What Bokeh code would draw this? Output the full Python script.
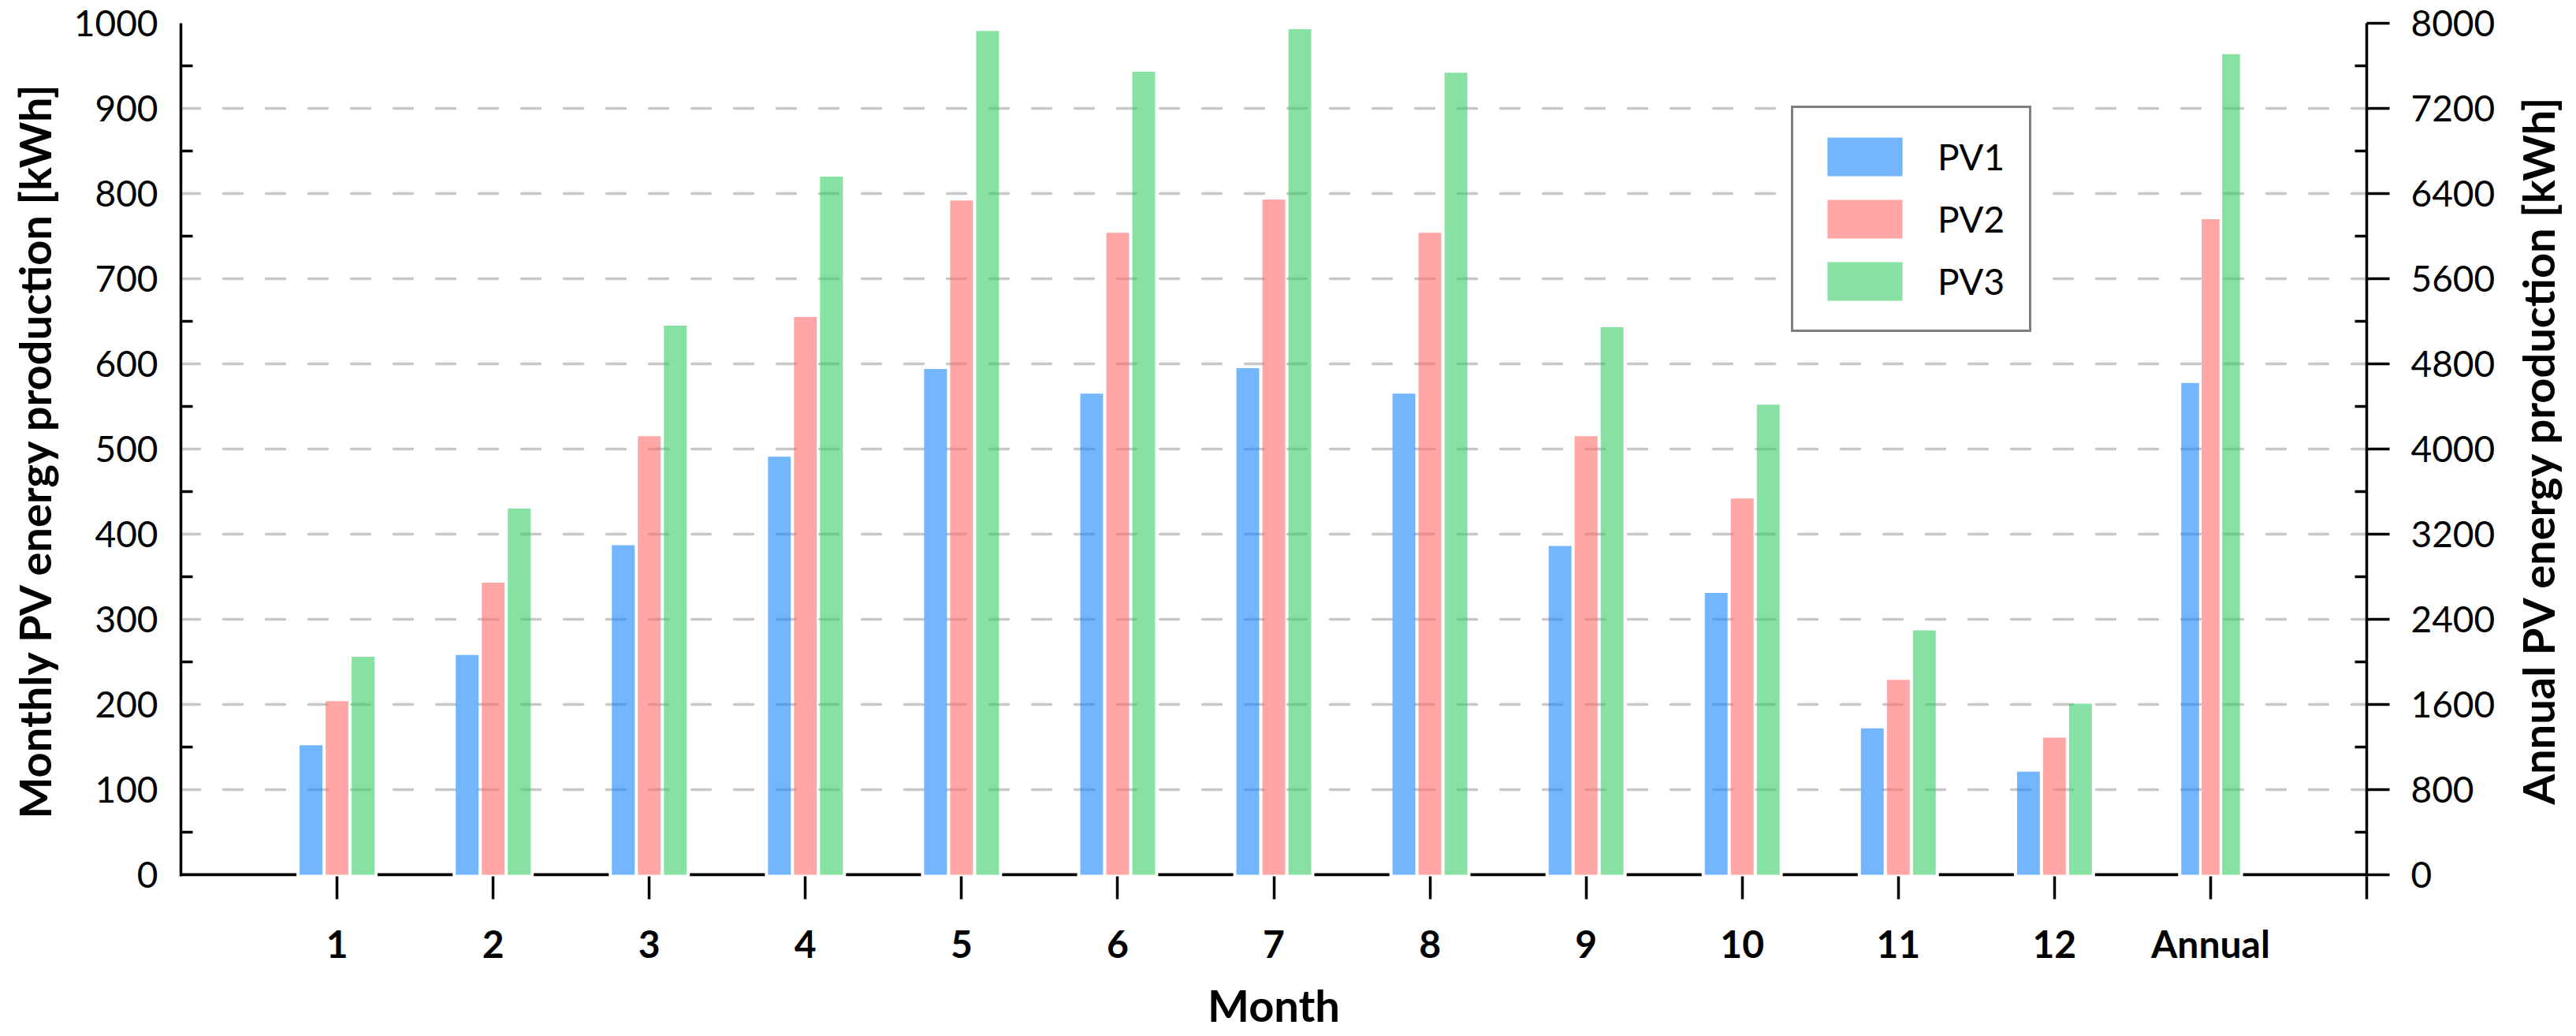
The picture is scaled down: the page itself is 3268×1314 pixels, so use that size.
import math
from bokeh.plotting import figure
from bokeh.layouts import row
from bokeh.models import (LinearAxis, Range1d, FixedTicker, Legend, LegendItem,
                          ColumnDataSource, Title)
from bokeh.transform import dodge
from bokeh.embed import file_html
from bokeh.resources import INLINE

# ---------------- data ----------------
months = list(range(1, 13))
pv1 = [152, 258, 387, 491, 594, 565, 595, 565, 386, 331, 172, 121]
pv2 = [204, 343, 515, 655, 792, 754, 793, 754, 515, 442, 229, 161]
pv3 = [256, 430, 645, 820, 991, 943, 993, 942, 643, 552, 287, 201]
annual_pos = [13]
annual_pv1 = [4620]
annual_pv2 = [6160]
annual_pv3 = [7710]
series_names = ["PV1", "PV2", "PV3"]
tick_labels = ["1", "2", "3", "4", "5", "6", "7", "8", "9", "10", "11", "12", "Annual"]
left_ticks = [0, 100, 200, 300, 400, 500, 600, 700, 800, 900, 1000]
right_ticks = [0, 800, 1600, 2400, 3200, 4000, 4800, 5600, 6400, 7200, 8000]
x_title = "Month"
left_title = "Monthly PV energy production [kWh]"
right_title = "Annual PV energy production [kWh]"

colors = ["#1685FC", "#FF6B6B", "#37CD64"]
ALPHA = 0.6
FONT = "Lato"
TITLE_SIZE = "56px"

# ---------------- geometry ----------------
m_off, m_w = 0.1667, 0.146
a_off, a_w = 0.131, 0.114
gap = 0.02
ext = 1.85  # frame extends slightly below zero so the base line is fully visible

p = figure(frame_width=2773, frame_height=1082,
           x_range=Range1d(0, 14), y_range=Range1d(-ext, 1000),
           output_backend="svg", toolbar_location=None,
           min_border_left=229, min_border_right=164,
           min_border_top=29, min_border_bottom=187,
           background_fill_color="white", border_fill_color="white")
p.outline_line_color = None
p.extra_y_ranges = {"annual": Range1d(-ext * 8, 8000)}

# grid
p.xgrid.visible = False
p.ygrid.ticker = FixedTicker(ticks=left_ticks[1:])
p.ygrid.grid_line_color = "#c8c8c8"
p.ygrid.grid_line_width = 3.5
p.ygrid.grid_line_dash = "24 30"
p.ygrid.grid_line_cap = "round"

# bars
src = ColumnDataSource(dict(x=months, pv1=pv1, pv2=pv2, pv3=pv3))
asrc = ColumnDataSource(dict(x=annual_pos, pv1=annual_pv1, pv2=annual_pv2, pv3=annual_pv3))
cols = ["pv1", "pv2", "pv3"]
offs = [-1, 0, 1]
month_renderers = []
for c, o, col in zip(cols, offs, colors):
    r = p.vbar(x=dodge("x", o * m_off), top=c, bottom=0, width=m_w, source=src,
               fill_color=col, fill_alpha=ALPHA, line_color=None)
    month_renderers.append(r)
    p.vbar(x=dodge("x", o * a_off), top=c, bottom=0, width=a_w, source=asrc,
           fill_color=col, fill_alpha=ALPHA, line_color=None, y_range_name="annual")

# broken base line between bar groups
centers = [0] + months + annual_pos + [14]
half = [0] + [m_off + m_w / 2 + gap] * len(months) + [a_off + a_w / 2 + gap] * len(annual_pos) + [0]
x0 = [centers[i] + half[i] for i in range(len(centers) - 1)]
x1 = [centers[i + 1] - half[i + 1] for i in range(len(centers) - 1)]
p.segment(x0=x0, y0=[0] * len(x0), x1=x1, y1=[0] * len(x1),
          line_color="black", line_width=4)

# x axis
xa = p.xaxis[0]
xa.ticker = FixedTicker(ticks=list(range(1, 15)))
overrides = {i + 1: t for i, t in enumerate(tick_labels)}
overrides[14] = ""
xa.major_label_overrides = overrides
xa.axis_line_color = None
xa.major_tick_line_color = "black"
xa.major_tick_line_width = 3.5
xa.major_tick_in = 0
xa.major_tick_out = 29
xa.minor_tick_line_color = None
xa.major_label_text_font = FONT
xa.major_label_text_font_style = "bold"
xa.major_label_text_font_size = "48px"
xa.major_label_text_color = "black"
xa.major_label_standoff = 27
xa.axis_label = x_title
xa.axis_label_text_font = FONT
xa.axis_label_text_font_style = "bold"
xa.axis_label_text_font_size = TITLE_SIZE
xa.axis_label_text_color = "black"
xa.axis_label_standoff = 13

# left y axis
ya = p.yaxis[0]
ya.ticker = FixedTicker(ticks=left_ticks, minor_ticks=[v + 50 for v in left_ticks[:-1]])
ya.axis_line_color = "black"
ya.axis_line_width = 3.5
ya.major_tick_line_color = None
ya.major_tick_in = 0
ya.major_tick_out = 0
ya.minor_tick_line_color = "black"
ya.minor_tick_line_width = 3.5
ya.minor_tick_in = 15
ya.minor_tick_out = 0
ya.major_label_text_font = FONT
ya.major_label_text_font_size = "46px"
ya.major_label_text_color = "black"
ya.major_label_standoff = 29
ya.axis_label = left_title
ya.axis_label_text_font = FONT
ya.axis_label_text_font_style = "bold"
ya.axis_label_text_font_size = TITLE_SIZE
ya.axis_label_text_color = "black"
ya.axis_label_standoff = 14

# right y axis
ra = LinearAxis(y_range_name="annual",
                ticker=FixedTicker(ticks=right_ticks, minor_ticks=[v + 400 for v in right_ticks[:-1]]))
ra.axis_line_color = "black"
ra.axis_line_width = 3.5
ra.major_tick_line_color = "black"
ra.major_tick_line_width = 3.5
ra.major_tick_in = 0
ra.major_tick_out = 29
ra.minor_tick_line_color = "black"
ra.minor_tick_line_width = 3.5
ra.minor_tick_in = 15
ra.minor_tick_out = 0
ra.major_label_text_font = FONT
ra.major_label_text_font_size = "46px"
ra.major_label_text_color = "black"
ra.major_label_standoff = 27
p.add_layout(ra, "right")

# legend
items = [LegendItem(label=n, renderers=[r]) for n, r in zip(series_names, month_renderers)]
legend = Legend(items=items, location=(2043, 690), margin=0, padding=31, spacing=18,
                glyph_width=119, glyph_height=61, label_height=61, label_standoff=33,
                border_line_color="black", border_line_width=3.5,
                background_fill_color="white", background_fill_alpha=1.0,
                label_text_font=FONT, label_text_font_size="46px",
                label_text_color="black")
p.add_layout(legend, "center")

# narrow companion figure carrying the right-hand title (reads bottom-to-top)
q = figure(frame_width=1, frame_height=1082, x_axis_type=None, y_axis_type=None,
           output_backend="svg", toolbar_location=None,
           min_border_left=84, min_border_right=0,
           min_border_top=29, min_border_bottom=187,
           background_fill_color="white", border_fill_color="white")
q.outline_line_color = None
q.grid.visible = False
q.add_layout(Title(text=right_title, align="center", text_font=FONT,
                   text_font_style="bold", text_font_size=TITLE_SIZE,
                   text_color="black", standoff=0), "left")

open("out.html", "w").write(file_html(row(p, q), INLINE))
